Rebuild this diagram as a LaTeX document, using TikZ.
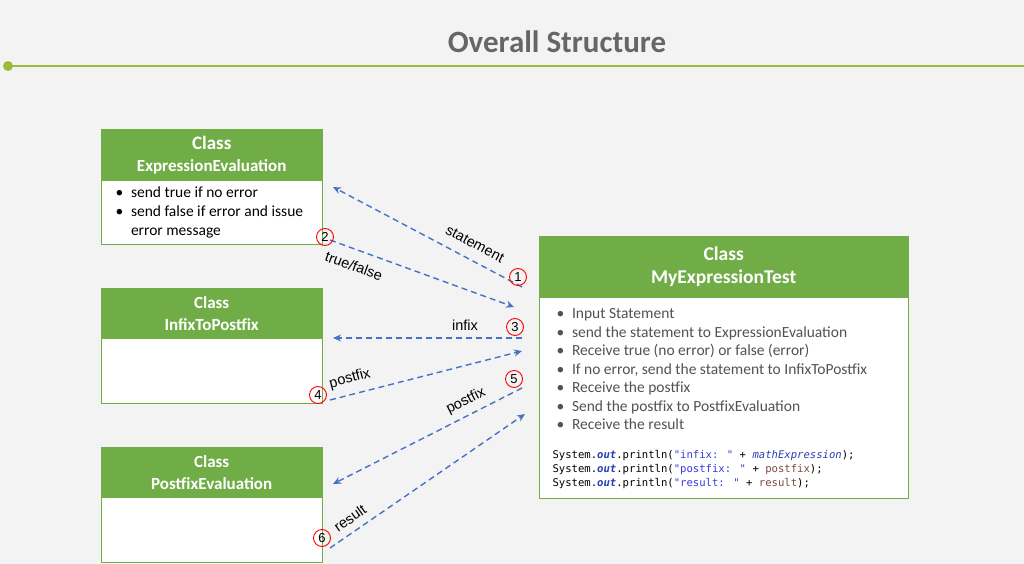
\documentclass[tikz,border=0pt]{standalone}
\usepackage{fontspec}
\setmainfont{Carlito}
\newfontfamily\arl{Liberation Sans}
\newfontfamily\mono{DejaVu Sans Mono}
\usetikzlibrary{arrows.meta}
\definecolor{bg}{HTML}{F3F3F3}
\definecolor{gr}{HTML}{70AD47}
\definecolor{ol}{HTML}{9BBB3B}
\definecolor{ar}{HTML}{4472C4}
\definecolor{tt}{HTML}{666666}
\definecolor{kw}{HTML}{2A3FB0}
\definecolor{st}{HTML}{3A3AE0}
\definecolor{vr}{HTML}{7A4A40}
\begin{document}
\begin{tikzpicture}[x=1pt,y=-1pt,
 hdr/.style={fill=gr,draw=gr,text=white,align=center,inner sep=0pt},
 body/.style={fill=white,draw=gr,line width=0.8pt},
 arr/.style={ar,dash pattern=on 6pt off 4pt,line width=1.4pt,-{Stealth[length=8pt,width=7pt]}},
 num/.style={circle,draw=red,line width=0.9pt,inner sep=0pt,minimum size=17pt,font=\arl\fontsize{13}{13}\selectfont},
 lbl/.style={font=\arl\fontsize{14.5}{14.5}\selectfont},
 txt/.style={font=\fontsize{15.5}{19}\selectfont,align=left,anchor=north west}]
\useasboundingbox (0,0) rectangle (1024,564);
\fill[bg] (0,0) rectangle (1024,564);
\node[font=\bfseries\fontsize{31}{33}\selectfont,text=tt] (title) at (557,42) {Overall Structure};
\draw[ol,line width=2pt] (8,66) -- (1024,66);
\fill[ol] (8,66) circle (5pt);
% EE
\draw[body] (101,129) rectangle (322,244);
\node[hdr,minimum width=221pt,minimum height=51pt,anchor=north west,font=\bfseries\fontsize{19}{22}\selectfont] (ee) at (101,129) {Class\\\fontsize{17}{20}\selectfont ExpressionEvaluation};
\node[txt] (eet) at (112,183) {\textbullet\enspace send true if no error\\\textbullet\enspace send false if error and issue\\\phantom{\textbullet\enspace}error message};
% IP
\draw[body] (101,288) rectangle (322,403);
\node[hdr,minimum width=221pt,minimum height=50pt,anchor=north west,font=\bfseries\fontsize{17}{22}\selectfont] (ip) at (101,288) {Class\\InfixToPostfix};
% PE
\draw[body] (101,447) rectangle (322,562);
\node[hdr,minimum width=221pt,minimum height=50pt,anchor=north west,font=\bfseries\fontsize{17}{22}\selectfont] (pe) at (101,447) {Class\\PostfixEvaluation};
% MET
\draw[body] (539,236) rectangle (908,498);
\node[hdr,minimum width=369pt,minimum height=61pt,anchor=north west,font=\bfseries\fontsize{19.5}{23}\selectfont] (met) at (539,236) {Class\\MyExpressionTest};
\node[txt,text=tt!80!black,font=\fontsize{15.5}{18.5}\selectfont] (mett) at (553,305) {%
\textbullet\enspace Input Statement\\
\textbullet\enspace send the statement to ExpressionEvaluation\\
\textbullet\enspace Receive true (no error) or false (error)\\
\textbullet\enspace If no error, send the statement to InfixToPostfix\\
\textbullet\enspace Receive the postfix\\
\textbullet\enspace Send the postfix to PostfixEvaluation\\
\textbullet\enspace Receive the result};
\node[txt,font=\mono\fontsize{10.6}{14}\selectfont] (code) at (549,447) {%
System.\textcolor{kw}{\textbf{\textit{out}}}.println(\textcolor{st}{"infix: "} + \textcolor{kw}{\textit{mathExpression}});\\
System.\textcolor{kw}{\textbf{\textit{out}}}.println(\textcolor{st}{"postfix: "} + \textcolor{vr}{postfix});\\
System.\textcolor{kw}{\textbf{\textit{out}}}.println(\textcolor{st}{"result: "} + \textcolor{vr}{result});};
% coordinates
\coordinate (a1s) at (522,287); \coordinate (a1e) at (333,187);
\coordinate (a2s) at (330,240); \coordinate (a2e) at (514,307);
\coordinate (a3s) at (522,338); \coordinate (a3e) at (333,338);
\coordinate (a4s) at (330,400); \coordinate (a4e) at (522,351);
\coordinate (a5s) at (522,388); \coordinate (a5e) at (333,484);
\coordinate (a6s) at (330,548); \coordinate (a6e) at (525,414);
\draw[arr] (a1s) -- (a1e);
\draw[arr] (a2s) -- (a2e);
\draw[arr] (a3s) -- (a3e);
\draw[arr] (a4s) -- (a4e);
\draw[arr] (a5s) -- (a5e);
\draw[arr] (a6s) -- (a6e);
\node[num] (n1) at (518,277) {1};
\node[num] (n2) at (325,237) {2};
\node[num] (n3) at (515,327) {3};
\node[num] (n4) at (318,395) {4};
\node[num] (n5) at (514,379) {5};
\node[num] (n6) at (322,538) {6};
\node[lbl,rotate=-28] (l1) at (475,244) {statement};
\node[lbl,rotate=-20] (l2) at (354,266) {true/false};
\node[lbl] (l3) at (465,325) {infix};
\node[lbl,rotate=15] (l4) at (350,379) {postfix};
\node[lbl,rotate=27] (l5) at (466,401) {postfix};
\node[lbl,rotate=35] (l6) at (350,518) {result};
\end{tikzpicture}
\end{document}
